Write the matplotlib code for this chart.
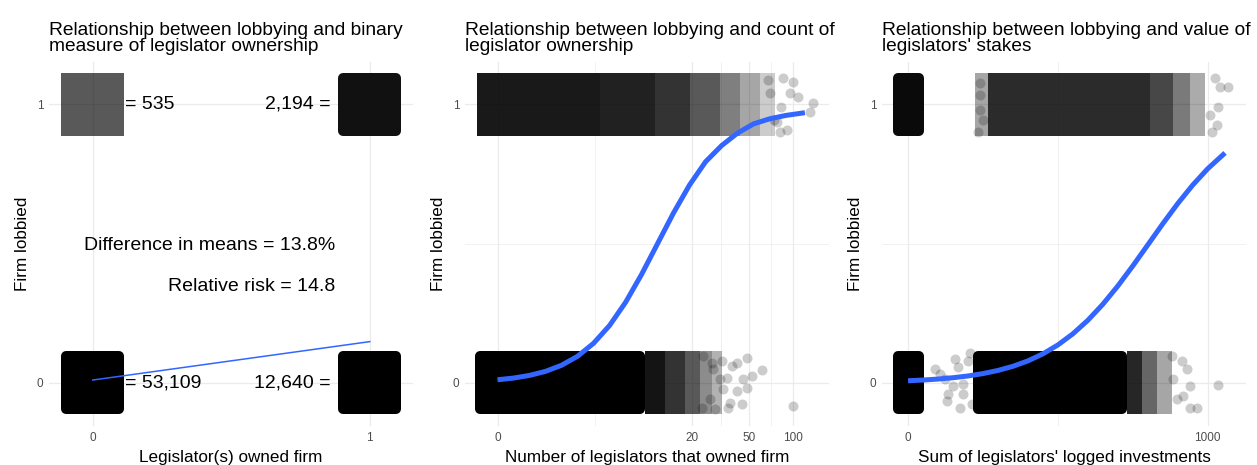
import numpy as np
import matplotlib.pyplot as plt

plt.rcParams['font.family'] = ['Liberation Sans', 'DejaVu Sans']

# ---- panel 1: binary ownership (owned 0/1) x lobbied (0/1) ----
owned_levels = [0, 1]
n_not_lobbied = [53109, 12640]   # owned = 0, owned = 1
n_lobbied = [535, 2194]

# ---- panel 2: count of legislators (log1p axis) ----
p2_ticks = [0, 20, 50, 100]
p2_minor = [3.58, 31.7, 70.8]
p2_top_edges = [-0.274, 3.96, 10.72, 19.24, 31.35, 43.2, 59.4, 75.4]
p2_top_shade = [0.9, 0.87, 0.8, 0.65, 0.5, 0.35, 0.2]
p2_bot_core = [-0.24, 8.3]
p2_bot_edges = [9.02, 12.7, 17.72, 22.66, 27.56, 32.38]
p2_bot_shade = [0.92, 0.8, 0.65, 0.45, 0.3]
p2_pts_x = [67.5, 85.5, 100, 95.5, 108, 137, 131, 78, 91, 81.5, 69.7, 83, 74,
            48.3, 61.4, 41.2, 32.4, 38.0, 45.3, 52.3, 48.3, 41.2, 44.6, 36.8, 35.7,
            32.9, 31.4, 100.2, 28.0, 26.7, 23.4, 23.8, 27.6, 35.1, 28.9]
p2_pts_y = [1.086, 1.094, 1.079, 1.040, 1.025, 1.004, 0.971, 0.935, 0.906, 0.899,
            1.040, 0.989, 0.942,
            0.090, 0.047, 0.072, 0.079, 0.061, 0.014, 0.025, -0.018, -0.029, -0.076,
            -0.072, -0.090, -0.022, 0.014, -0.083, 0.050, -0.058, -0.090, 0.097,
            0.072, 0.018, -0.094]
p2_curve_x = [0, 0.284, 0.649, 1.117, 1.718, 2.49, 3.482, 4.755, 6.389, 8.488,
              11.18, 14.64, 19.09, 24.79, 32.12, 41.52, 53.6, 69.11, 89.02, 120.5]
p2_curve_y = [0.011, 0.0171, 0.0266, 0.0411, 0.063, 0.0953, 0.1419, 0.2059, 0.2891,
              0.3894, 0.5, 0.6106, 0.7109, 0.7941, 0.852, 0.897, 0.930, 0.948,
              0.960, 0.970]

# ---- panel 3: sum of logged investments ----
p3_ticks = [0, 1000]
p3_minor = [500]
p3_left_core = [-35, 35]
p3_top_edges = [224, 267, 808, 885, 942, 992]
p3_top_shade = [0.35, 0.83, 0.72, 0.52, 0.33]
p3_bot_core = [234, 714]
p3_bot_edges = [731, 781, 831, 881]
p3_bot_shade = [0.85, 0.6, 0.35]
p3_pts_x = [1025, 1068, 1035, 1008, 1032, 1015, 1042, 240, 240, 240, 250, 234,
            881, 915, 932, 942, 918, 942, 965, 1035, 885, 898,
            90, 107, 157, 167, 200, 207, 150, 184, 134, 130, 184, 174, 214, 124]
p3_pts_y = [1.094, 1.061, 0.989, 0.960, 0.924, 0.899, 1.061, 1.076, 1.032, 0.978,
            0.942, 0.899,
            0.097, 0.079, 0.050, -0.011, -0.047, -0.090, -0.090, -0.007, 0.014, -0.058,
            0.050, 0.032, 0.086, 0.058, 0.079, 0.108, -0.011, -0.004, -0.040, -0.065,
            -0.040, -0.090, -0.076, 0.014]
p3_curve_x = [0, 50, 100, 150, 200, 250, 300, 350, 400, 450, 500, 550, 600, 650,
              700, 750, 800, 850, 900, 950, 1000, 1058]
p3_curve_y = [0.0074, 0.010, 0.0135, 0.0183, 0.0246, 0.0331, 0.0444, 0.0593, 0.0787,
              0.1039, 0.1359, 0.1758, 0.2244, 0.2819, 0.3475, 0.4195, 0.495, 0.5708,
              0.6434, 0.7099, 0.7685, 0.8255]

BLUE = '#3366FF'
GRID = '#ebebeb'
HALF = 0.113      # half height of a jitter band incl. marker
CORE = 0.095      # half height of the solid core (rounded edge adds the rest)
PT_SIZE = 52


def solid_cloud(ax, x0, x1, yc, color='black'):
    ax.fill([x0, x1, x1, x0], [yc - CORE, yc - CORE, yc + CORE, yc + CORE],
            facecolor=color, edgecolor=color, lw=7.2, joinstyle='round', zorder=2)


def shaded_band(ax, edges, shades, yc):
    for i, a in enumerate(shades):
        ax.fill_between([edges[i], edges[i + 1]], yc - HALF, yc + HALF,
                        color='black', alpha=a, lw=0, zorder=2)


def style_axes(ax, xlabel, title):
    for s in ax.spines.values():
        s.set_visible(False)
    ax.set_ylim(-0.155, 1.152)
    ax.set_yticks([0, 1])
    ax.set_yticklabels(['0', '1'])
    ax.tick_params(length=0, labelsize=8.5, labelcolor='#4d4d4d', pad=4)
    ax.tick_params(which='minor', length=0)
    ax.grid(True, which='major', color=GRID, lw=0.9)
    ax.set_axisbelow(True)
    ax.set_xlabel(xlabel, fontsize=12.3, labelpad=5)
    ax.set_ylabel('Firm lobbied', fontsize=12.3, labelpad=5)
    ax.set_title(title, loc='left', fontsize=13.8, linespacing=0.95, pad=8)


fig = plt.figure(figsize=(12.57, 4.65), dpi=100)
W = 364 / 1257
ax1 = fig.add_axes([49 / 1257, 0.0839, W, 0.7828])
ax2 = fig.add_axes([465 / 1257, 0.0839, W, 0.7828])
ax3 = fig.add_axes([882 / 1257, 0.0839, W, 0.7828])

# panel 1
solid_cloud(ax1, -0.096, 0.096, 0)
solid_cloud(ax1, 0.904, 1.096, 0)
solid_cloud(ax1, 0.904, 1.096, 1, color='#111111')
ax1.fill_between([-0.114, 0.114], 1 - HALF, 1 + HALF, color='black', alpha=0.65,
                 lw=0, zorder=2)
share = [n_lobbied[i] / (n_lobbied[i] + n_not_lobbied[i]) for i in range(2)]
ax1.plot(owned_levels, share, color=BLUE, lw=1.1, zorder=4)
ax1.text(0.115, 1, '= {:,}'.format(n_lobbied[0]), fontsize=14, va='center', ha='left')
ax1.text(0.86, 1, '{:,} ='.format(n_lobbied[1]), fontsize=14, va='center', ha='right')
ax1.text(0.115, 0, '= {:,}'.format(n_not_lobbied[0]), fontsize=14, va='center', ha='left')
ax1.text(0.86, 0, '{:,} ='.format(n_not_lobbied[1]), fontsize=14, va='center', ha='right')
ax1.text(0.877, 0.493, 'Difference in means = {:.1f}%'.format((share[1] - share[0]) * 100),
         fontsize=14, va='center', ha='right')
ax1.text(0.877, 0.345, 'Relative risk = {:.1f}'.format(share[1] / share[0]),
         fontsize=14, va='center', ha='right')
ax1.set_xlim(-0.158, 1.156)
ax1.set_xticks(owned_levels)
style_axes(ax1, 'Legislator(s) owned firm',
           'Relationship between lobbying and binary\nmeasure of legislator ownership')

# panel 2
ax2.set_xscale('function', functions=(np.log1p, np.expm1))
shaded_band(ax2, p2_top_edges, p2_top_shade, 1)
solid_cloud(ax2, p2_bot_core[0], p2_bot_core[1], 0)
shaded_band(ax2, p2_bot_edges, p2_bot_shade, 0)
ax2.scatter(p2_pts_x, p2_pts_y, s=PT_SIZE, color='black', alpha=0.2, lw=0, zorder=3)
ax2.plot(p2_curve_x, p2_curve_y, color=BLUE, lw=3.6, solid_capstyle='butt', zorder=4)
ax2.set_xlim(-0.398, 176)
ax2.set_xticks(p2_ticks)
ax2.set_xticklabels([str(t) for t in p2_ticks])
ax2.set_xticks(p2_minor, minor=True)
ax2.set_yticks([0.5], minor=True)
ax2.grid(True, which='minor', color=GRID, lw=0.5)
style_axes(ax2, 'Number of legislators that owned firm',
           'Relationship between lobbying and count of\nlegislator ownership')

# panel 3
solid_cloud(ax3, p3_left_core[0], p3_left_core[1], 1, color='#0a0a0a')
solid_cloud(ax3, p3_left_core[0], p3_left_core[1], 0)
shaded_band(ax3, p3_top_edges, p3_top_shade, 1)
solid_cloud(ax3, p3_bot_core[0], p3_bot_core[1], 0)
shaded_band(ax3, p3_bot_edges, p3_bot_shade, 0)
ax3.scatter(p3_pts_x, p3_pts_y, s=PT_SIZE, color='black', alpha=0.2, lw=0, zorder=3)
ax3.plot(p3_curve_x, p3_curve_y, color=BLUE, lw=3.6, solid_capstyle='butt', zorder=4)
ax3.set_xlim(-87, 1128)
ax3.set_xticks(p3_ticks)
ax3.set_xticklabels([str(t) for t in p3_ticks])
ax3.set_xticks(p3_minor, minor=True)
ax3.set_yticks([0.5], minor=True)
ax3.grid(True, which='minor', color=GRID, lw=0.5)
style_axes(ax3, "Sum of legislators' logged investments",
           "Relationship between lobbying and value of\nlegislators' stakes")

fig.savefig('out.png', dpi=100)
